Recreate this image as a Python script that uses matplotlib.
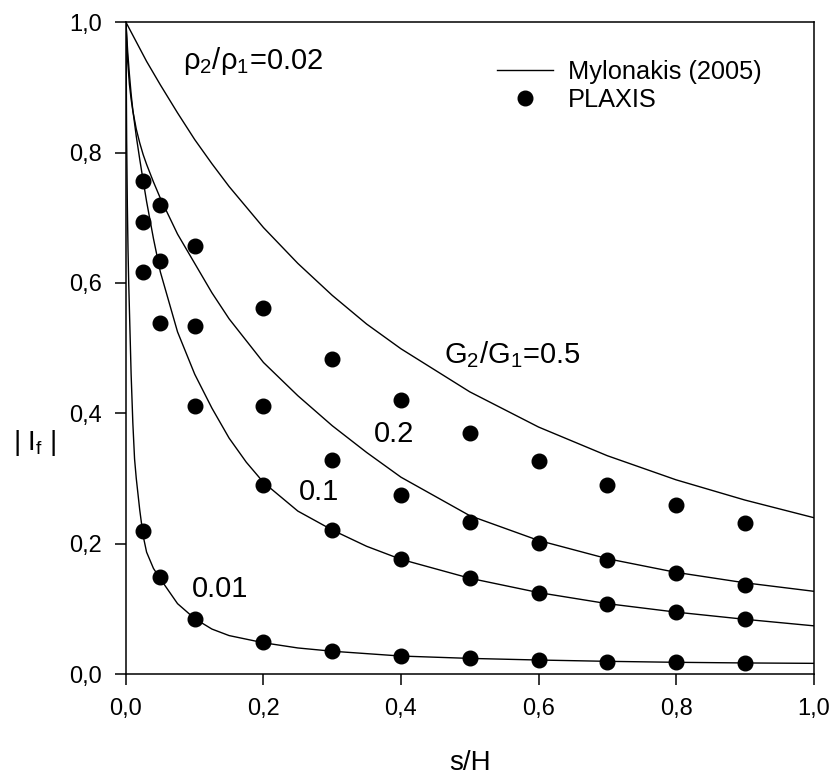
import matplotlib
matplotlib.use("Agg")
import matplotlib.pyplot as plt
from matplotlib.ticker import FuncFormatter, MultipleLocator

plt.rcParams["font.family"] = ["Liberation Sans", "DejaVu Sans"]
plt.rcParams["mathtext.fontset"] = "custom"
plt.rcParams["mathtext.rm"] = "Liberation Sans"
plt.rcParams["mathtext.it"] = "Liberation Sans:italic"

# ===================== Data =====================
# Mylonakis (2005) curves
x_05 = [0.0, 0.01, 0.02, 0.03, 0.05, 0.075, 0.1, 0.125, 0.15, 0.2,
        0.25, 0.3, 0.35, 0.4, 0.5, 0.6, 0.7, 0.8, 0.9, 1.0]
y_05 = [1.0, 0.980, 0.960, 0.940, 0.904, 0.861, 0.820, 0.783, 0.748, 0.685,
        0.630, 0.581, 0.537, 0.499, 0.433, 0.379, 0.335, 0.298, 0.267, 0.240]

x_02 = [0.0, 0.0025, 0.005, 0.0075, 0.01, 0.015, 0.02, 0.025, 0.03, 0.04,
        0.05, 0.075, 0.1, 0.125, 0.15, 0.2, 0.25, 0.3, 0.35, 0.4,
        0.5, 0.6, 0.7, 0.8, 0.9, 1.0]
y_02 = [1.0, 0.94, 0.905, 0.882, 0.864, 0.836, 0.815, 0.797, 0.782, 0.755,
        0.73, 0.675, 0.63, 0.585, 0.545, 0.478, 0.427, 0.381, 0.34, 0.302,
        0.243, 0.205, 0.177, 0.156, 0.14, 0.127]

x_01 = [0.0, 0.0025, 0.005, 0.0075, 0.01, 0.015, 0.02, 0.025, 0.03, 0.04,
        0.05, 0.075, 0.1, 0.125, 0.15, 0.175, 0.2, 0.25, 0.3, 0.35,
        0.4, 0.5, 0.6, 0.7, 0.8, 0.9, 1.0]
y_01 = [1.0, 0.955, 0.92, 0.89, 0.865, 0.825, 0.79, 0.757, 0.725, 0.668,
        0.617, 0.525, 0.46, 0.408, 0.362, 0.325, 0.294, 0.25, 0.221, 0.196,
        0.176, 0.147, 0.125, 0.108, 0.095, 0.084, 0.074]

x_001 = [0.0, 0.001, 0.002, 0.003, 0.004, 0.005, 0.0075, 0.01, 0.0125, 0.015,
         0.02, 0.025, 0.03, 0.04, 0.05, 0.075, 0.1, 0.125, 0.15, 0.2,
         0.25, 0.3, 0.4, 0.5, 0.6, 0.7, 0.8, 0.9, 1.0]
y_001 = [1.0, 0.82, 0.72, 0.65, 0.60, 0.56, 0.46, 0.385, 0.33, 0.30,
         0.252, 0.212, 0.187, 0.162, 0.146, 0.108, 0.085, 0.069, 0.059, 0.048,
         0.040, 0.035, 0.0276, 0.024, 0.0215, 0.0195, 0.018, 0.017, 0.0164]

# PLAXIS points
plaxis_x = [0.025, 0.05, 0.1, 0.2, 0.3, 0.4, 0.5, 0.6, 0.7, 0.8, 0.9]
plaxis_05 = [0.757, 0.72, 0.656, 0.561, 0.484, 0.421, 0.37, 0.327, 0.29, 0.259, 0.232]
plaxis_02 = [0.693, 0.633, 0.534, 0.411, 0.329, 0.275, 0.234, 0.2015, 0.175, 0.1545, 0.137]
plaxis_01 = [0.617, 0.538, 0.411, 0.29, 0.221, 0.176, 0.147, 0.125, 0.107, 0.0956, 0.085]
plaxis_001 = [0.219, 0.149, 0.084, 0.0486, 0.035, 0.0276, 0.024, 0.0215, 0.019, 0.019, 0.0174]

# ===================== Plot =====================
fig = plt.figure(figsize=(8.32, 7.76), dpi=100)
ax = fig.add_axes([0.1514, 0.1314, 0.8264, 0.8399])

line_kw = dict(color="black", lw=1.0)
ax.plot(x_05, y_05, label="Mylonakis (2005)", **line_kw)
ax.plot(x_02, y_02, **line_kw)
ax.plot(x_01, y_01, **line_kw)
ax.plot(x_001, y_001, **line_kw)

dot_kw = dict(ls="none", marker="o", ms=10.5, color="black")
ax.plot(plaxis_x, plaxis_05, label="PLAXIS", **dot_kw)
ax.plot(plaxis_x, plaxis_02, **dot_kw)
ax.plot(plaxis_x, plaxis_01, **dot_kw)
ax.plot(plaxis_x, plaxis_001, **dot_kw)

ax.set_xlim(0, 1)
ax.set_ylim(0, 1)
ax.xaxis.set_major_locator(MultipleLocator(0.2))
ax.yaxis.set_major_locator(MultipleLocator(0.2))
comma = FuncFormatter(lambda v, p: f"{v:.1f}".replace(".", ","))
ax.xaxis.set_major_formatter(comma)
ax.yaxis.set_major_formatter(comma)
ax.tick_params(direction="out", length=8, width=1.1, labelsize=17, pad=9,
               top=False, right=False)
for s in ax.spines.values():
    s.set_linewidth(1.1)

# Annotations
ax.text(0.185, 0.94, "ρ$_2$/ρ$_1$=0.02", fontsize=21, ha="center", va="center")
ax.text(0.562, 0.49, "G$_2$/G$_1$=0.5", fontsize=21, ha="center", va="center")
ax.text(0.39, 0.368, "0.2", fontsize=21, ha="center", va="center")
ax.text(0.281, 0.28, "0.1", fontsize=21, ha="center", va="center")
ax.text(0.137, 0.13, "0.01", fontsize=21, ha="center", va="center")

# Axis labels
fig.text(0.042, 1 - 443 / 776, "| I$_\\mathrm{f}$ |", fontsize=20, ha="center", va="center")
fig.text(0.1514 + 0.8264 / 2, 1 - 763 / 776, "s/H", fontsize=20, ha="center", va="center")

# Legend
ax.legend(loc="upper left", bbox_to_anchor=(0.5396, 0.942), frameon=False,
          fontsize=18.3, handlelength=2.2, handletextpad=0.6, labelspacing=0.15,
          borderpad=0, borderaxespad=0)

fig.savefig("out.png", dpi=100)
